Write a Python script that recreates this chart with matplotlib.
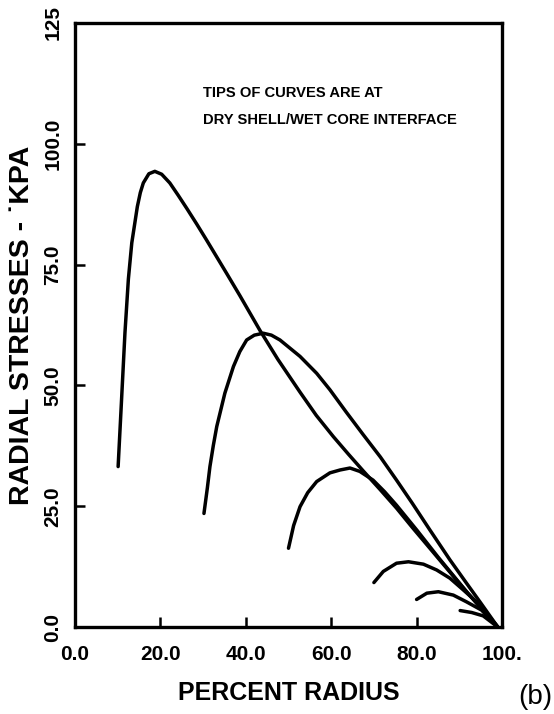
import matplotlib
matplotlib.use("Agg")
import matplotlib.pyplot as plt
from matplotlib import font_manager

# ---- data (percent radius, radial stress kPa) ----
c10_x = [10.1, 10.9, 11.7, 12.5, 13.3, 14.6, 15.3, 16.0, 17.3, 18.7, 20.3, 22.2, 24.2,
         26.2, 28.5, 30.8, 35.5, 38.6, 43.3, 47.5, 52.7, 56.5, 60.5, 64.0, 67.5, 71.5,
         75.3, 79.0, 83.1, 87.0, 91.0, 95.0, 99.0]
c10_y = [33.2, 47.0, 60.9, 72.0, 79.5, 87.0, 89.9, 91.9, 93.8, 94.3, 93.7, 91.9, 89.3,
         86.6, 83.4, 80.1, 73.2, 68.6, 61.4, 55.4, 48.6, 43.8, 39.4, 35.8, 32.3, 28.4,
         24.6, 20.6, 16.3, 12.2, 8.0, 4.0, 0.0]

c30_x = [30.2, 31.0, 31.6, 32.4, 33.2, 35.1, 37.1, 38.6, 40.2, 42.0, 44.1, 46.0, 48.0,
         52.7, 56.6, 59.7, 63.5, 67.5, 71.5, 75.3, 79.0, 83.1, 87.8, 91.5, 95.0, 99.0]
c30_y = [23.5, 28.8, 33.2, 37.6, 41.5, 48.4, 53.9, 57.0, 59.4, 60.4, 60.8, 60.4, 59.4,
         56.0, 52.5, 49.1, 44.5, 39.8, 35.2, 30.4, 25.6, 20.1, 13.9, 9.3, 5.0, 0.0]

c50_x = [50.0, 51.2, 52.7, 54.5, 56.6, 59.7, 62.1, 64.4, 66.7, 69.8, 72.5, 75.3, 80.1,
         85.0, 92.0, 99.0]
c50_y = [16.3, 21.0, 24.9, 27.8, 30.1, 31.9, 32.5, 32.9, 32.2, 30.4, 28.0, 25.2, 20.0,
         14.5, 7.0, 0.0]

c70_x = [70.0, 72.2, 75.3, 78.1, 81.6, 84.7, 87.8, 90.9, 94.8, 99.0]
c70_y = [9.2, 11.5, 13.2, 13.5, 13.0, 11.8, 10.1, 7.7, 4.6, 0.0]

c80_x = [80.0, 82.4, 85.1, 88.6, 91.7, 95.2, 99.0]
c80_y = [5.7, 7.0, 7.3, 6.6, 5.2, 3.5, 0.0]

c90_x = [90.2, 92.9, 95.6, 99.0]
c90_y = [3.4, 3.0, 2.3, 0.0]

x_ticks = [0, 20, 40, 60, 80, 100]
x_tick_labels = ["0.0", "20.0", "40.0", "60.0", "80.0", "100."]
y_ticks = [0, 25, 50, 75, 100, 125]
y_tick_labels = ["0.0", "25.0", "50.0", "75.0", "100.0", "125"]

# ---- fonts ----
avail = {f.name for f in font_manager.fontManager.ttflist}
main_font = "Liberation Sans"
if "Liberation Sans Narrow" in avail:
    narrow, note_size, xl_size = "Liberation Sans Narrow", 12.5, 20
elif "DejaVu Sans Condensed" in avail:
    narrow, note_size, xl_size = "DejaVu Sans Condensed", 10.5, 17
else:
    narrow, note_size, xl_size = "Liberation Sans", 10.6, 18

fig = plt.figure(figsize=(5.54, 7.14), dpi=100)
ax = fig.add_axes([75 / 554, 1 - 627 / 714, 427 / 554, 604 / 714])

lw = 2.5
for xs, ys in [(c10_x, c10_y), (c30_x, c30_y), (c50_x, c50_y),
               (c70_x, c70_y), (c80_x, c80_y), (c90_x, c90_y)]:
    ax.plot(xs, ys, color="black", lw=lw, solid_capstyle="round", solid_joinstyle="round")

ax.set_xlim(0, 100)
ax.set_ylim(0, 125)
for s in ax.spines.values():
    s.set_linewidth(2.4)
    s.set_color("black")

ax.set_xticks(x_ticks)
ax.set_xticklabels(x_tick_labels, fontfamily=main_font, fontweight="bold", fontsize=15)
ax.set_yticks(y_ticks)
ax.set_yticklabels(y_tick_labels, fontfamily=main_font, fontweight="bold", fontsize=15,
                   rotation=90, va="center")
ax.tick_params(axis="both", direction="in", length=7, width=1.8, color="black")
ax.tick_params(axis="x", pad=13)
ax.tick_params(axis="y", pad=9)

ax.set_xlabel("PERCENT RADIUS", fontfamily=narrow, fontweight="bold", fontsize=xl_size,
              labelpad=12)
ax.set_ylabel("RADIAL STRESSES - \u02d9KPA", fontfamily=main_font, fontweight="bold",
              fontsize=20.5, labelpad=6)

fig.text(203 / 554, 1 - 93 / 714, "TIPS OF CURVES ARE AT", fontfamily=narrow,
         fontweight="bold", fontsize=note_size, va="center", ha="left")
fig.text(203 / 554, 1 - 120 / 714, "DRY SHELL/WET CORE INTERFACE", fontfamily=narrow,
         fontweight="bold", fontsize=note_size, va="center", ha="left")

fig.text(535 / 554, 1 - 697 / 714, "(b)", fontfamily=main_font, fontsize=20,
         ha="center", va="center")

fig.savefig("out.png", dpi=100, facecolor="white")
